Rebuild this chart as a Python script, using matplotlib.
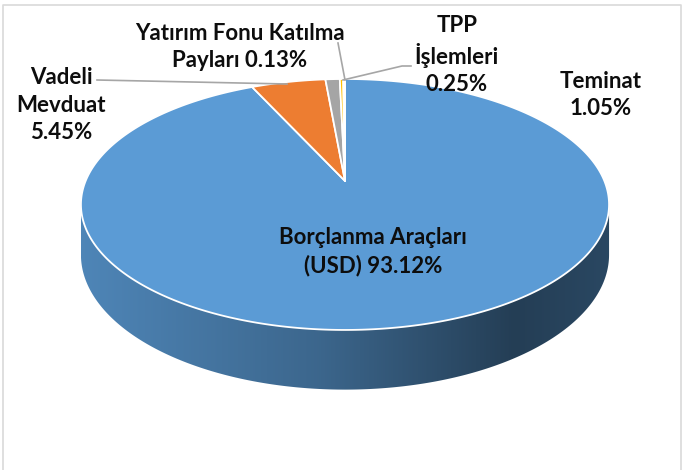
import numpy as np
import matplotlib
matplotlib.use("Agg")
import matplotlib.pyplot as plt
from matplotlib.patches import Polygon
from matplotlib.colors import LinearSegmentedColormap, to_rgb

# ---------------- data ----------------
categories = ["Borçlanma Araçları (USD)", "Vadeli Mevduat", "Teminat",
              "TPP İşlemleri", "Yatırım Fonu Katılma Payları"]
values = [93.12, 5.45, 1.05, 0.25, 0.13]
colors = ["#5B9BD5", "#ED7D31", "#A5A5A5", "#FFC000", "#4472C4"]
wrapped = ["Borçlanma Araçları\n(USD)", "Vadeli\nMevduat", "Teminat",
           "TPP\nİşlemleri", "Yatırım Fonu Katılma\nPayları"]
value_sep = [" ", "\n", "\n", "\n", " "]

# ---------------- layout (pixel space) ----------------
W, H = 683, 470
cx, cy = 345.0, 181.0      # projected centre (apex)
A, B = 259.4, 121.1        # radii of the disc
P = 0.187                  # perspective strength
T = 48.5                   # thickness

label_pos = [(373, 252), (61, 105), (601, 95), (457, 55), (240, 47)]
leaders = [None,
           [(97, 80), (287, 84)],
           None,
           [(343, 80), (402, 66), (411, 66)],
           [(338, 43), (345, 80)]]

plt.rcParams["font.family"] = ["Lato", "DejaVu Sans"]

fig = plt.figure(figsize=(W / 100, H / 100), dpi=100)
ax = fig.add_axes([0, 0, 1, 1])
ax.set_xlim(0, W)
ax.set_ylim(H, 0)
ax.axis("off")


def proj(theta, bottom=False):
    u = np.sin(theta)
    v = -np.cos(theta)
    w = 1 - P * v
    x = cx + A * u / w
    y = cy + (B * v + (T if bottom else 0)) / w
    return x, y


total = sum(values)
angles = np.cumsum([0] + [v / total * 2 * np.pi for v in values])
front_lo = np.arccos(-P)
front_hi = 2 * np.pi - front_lo

# ---- side walls (front part) ----
for i, col in enumerate(colors):
    a0 = max(angles[i], front_lo)
    a1 = min(angles[i + 1], front_hi)
    if a1 <= a0:
        continue
    th = np.linspace(a0, a1, 300)
    xt, yt = proj(th)
    xb, yb = proj(th[::-1], bottom=True)
    poly = Polygon(np.column_stack([np.r_[xt, xb], np.r_[yt, yb]]),
                   closed=True, facecolor="none", edgecolor="none")
    ax.add_patch(poly)
    base = np.array(to_rgb(col))
    cmap = LinearSegmentedColormap.from_list(
        "side", [(0.0, base * 0.86), (0.45, base * 0.66),
                 (0.82, base * 0.40), (1.0, base * 0.46)])
    grad = np.linspace(0, 1, 512)[None, :]
    x0, x1 = cx - A / np.sqrt(1 - P * P), cx + A / np.sqrt(1 - P * P)
    im = ax.imshow(grad, cmap=cmap, extent=[x0, x1, max(yb) + 2, min(yt) - 2],
                   aspect="auto", interpolation="bilinear", zorder=1)
    im.set_clip_path(poly)

# ---- top slices ----
for i, col in enumerate(colors):
    th = np.linspace(angles[i], angles[i + 1], max(4, int(600 * values[i] / total)))
    xs, ys = proj(th)
    pts = np.column_stack([np.r_[cx, xs], np.r_[cy, ys]])
    ax.add_patch(Polygon(pts, closed=True, facecolor=col, edgecolor="white",
                         linewidth=1.3, joinstyle="round", zorder=2))

# ---- labels ----
for i in range(len(values)):
    txt = wrapped[i] + value_sep[i] + f"{values[i]:.2f}%"
    x, y = label_pos[i]
    ax.text(x, y, txt, ha="center", va="center", fontsize=16,
            fontweight="bold", color="#0D0D0D", linespacing=1.36, zorder=5)
    if leaders[i]:
        lx, ly = zip(*leaders[i])
        ax.plot(lx, ly, color="#A6A6A6", lw=1.2, zorder=4)

# ---- chart frame ----
ax.plot([2.5, 2.5, 680.5, 680.5], [H + 5, 4.5, 4.5, H + 5],
        color="#D9D9D9", lw=1.2, zorder=0)

fig.savefig("out.png", dpi=100)
